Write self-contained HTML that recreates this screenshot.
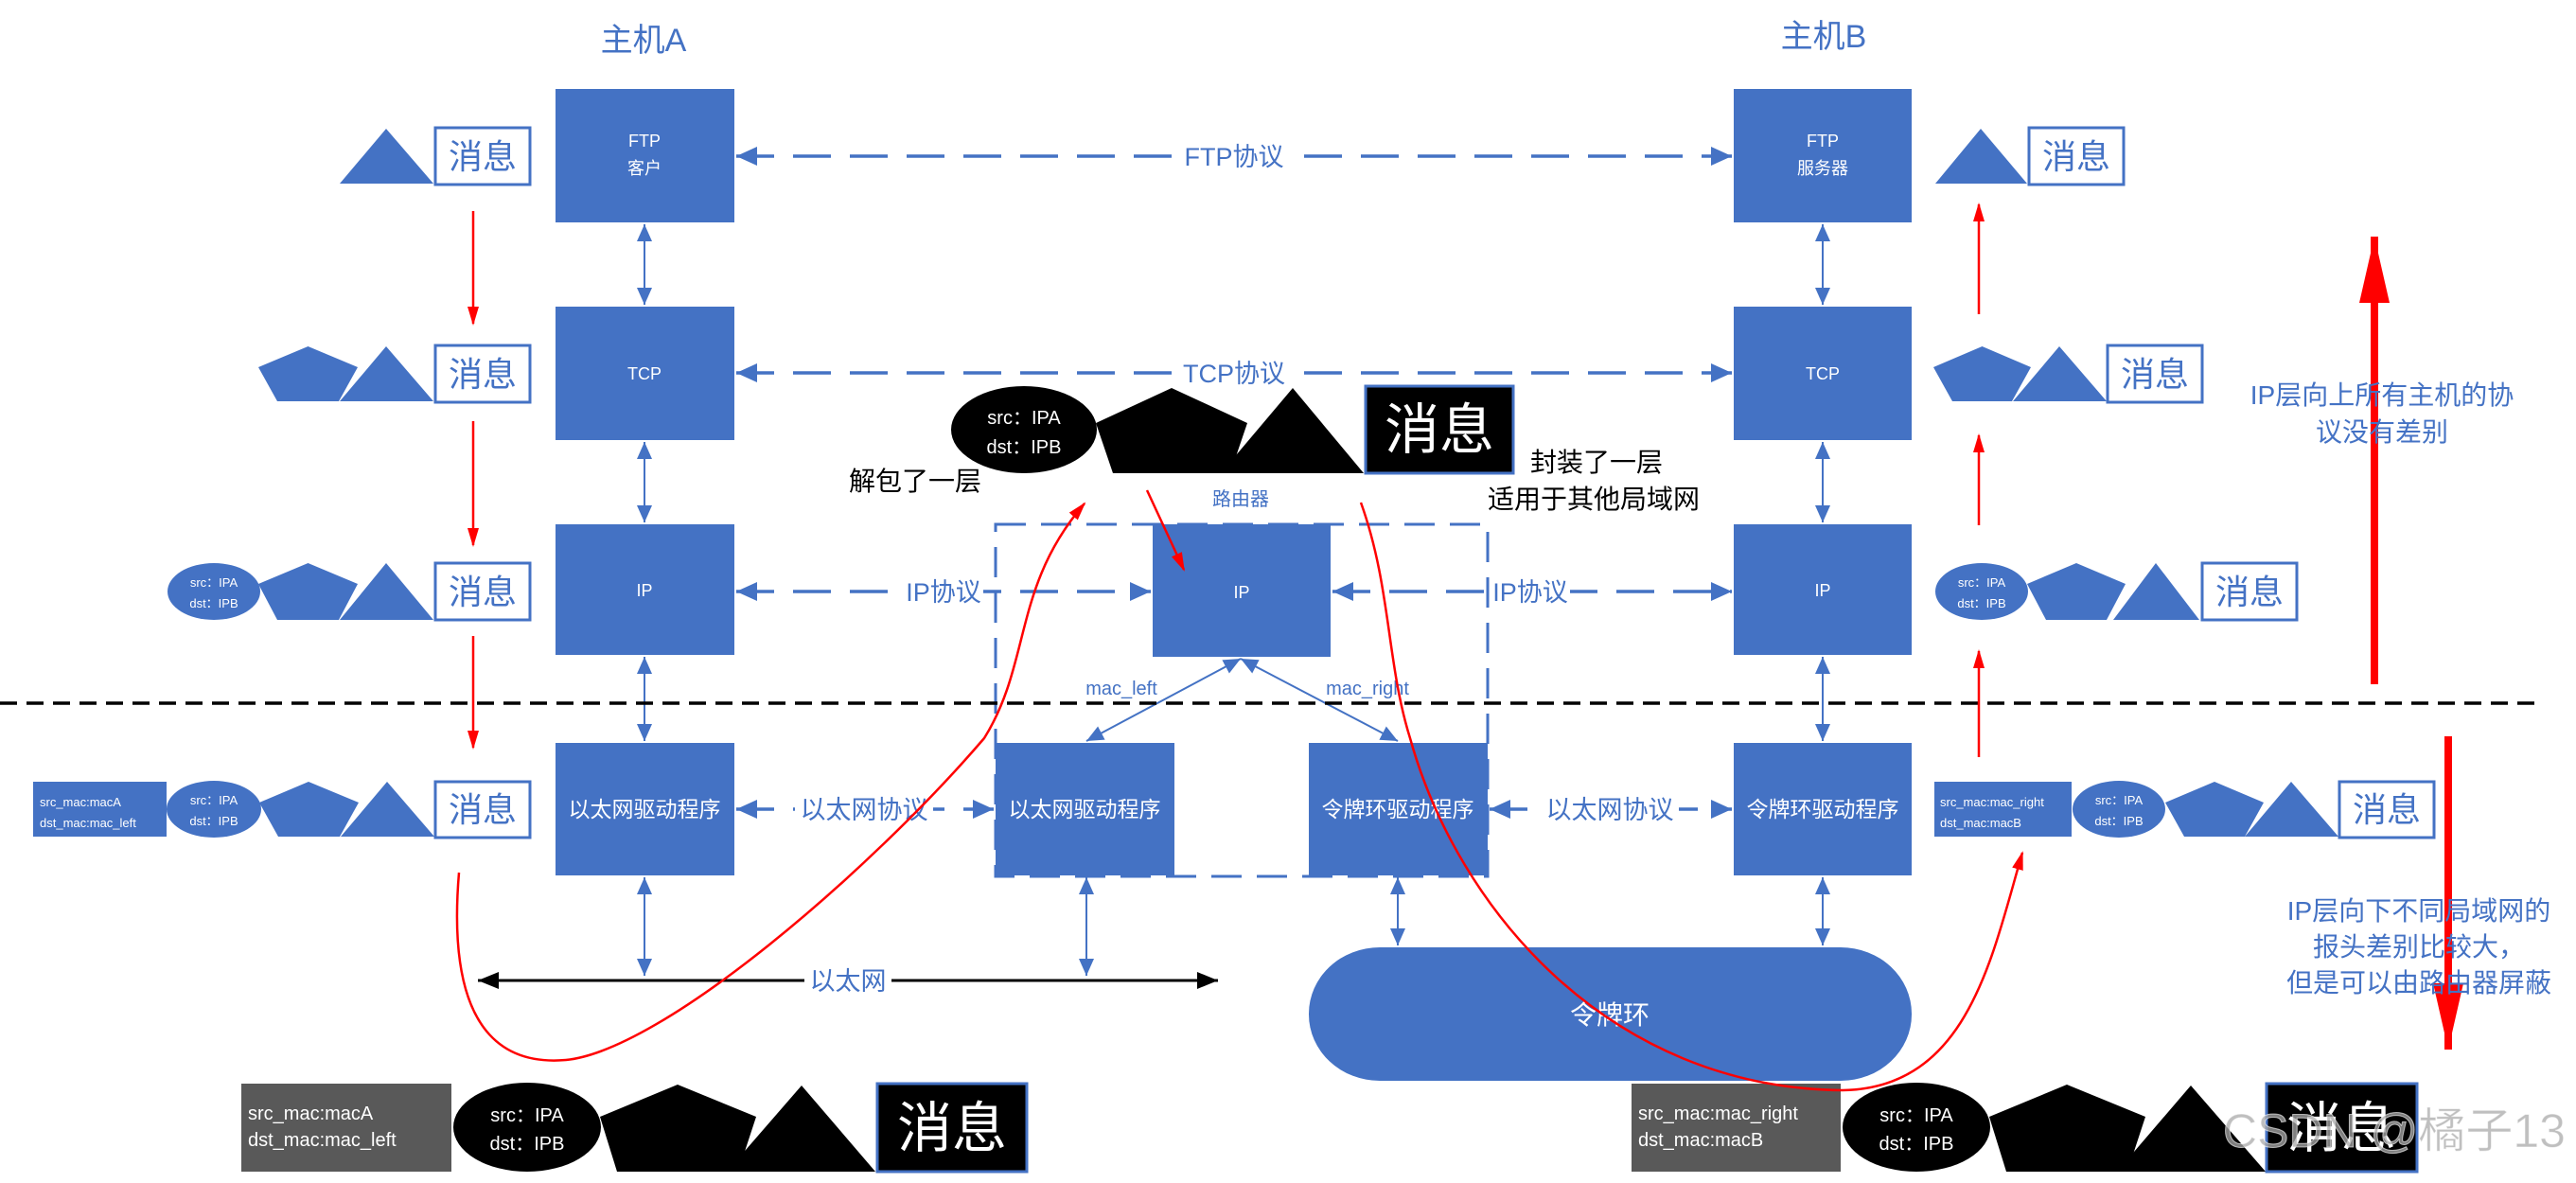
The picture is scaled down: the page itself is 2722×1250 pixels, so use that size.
<!DOCTYPE html>
<html><head><meta charset="utf-8"><style>
html,body{margin:0;padding:0;background:#fff;}
svg{display:block;}
text{font-family:"Liberation Sans","Noto Sans CJK SC",sans-serif;}
</style></head><body>
<svg width="2722" height="1250" viewBox="0 0 2722 1250" xmlns="http://www.w3.org/2000/svg">
<defs>
<marker id="ba" markerUnits="userSpaceOnUse" markerWidth="20" markerHeight="20" refX="18" refY="10" orient="auto-start-reverse"><path d="M0,2 L18,10 L0,18 z" fill="#4472C4"/></marker>
<marker id="bs" markerUnits="userSpaceOnUse" markerWidth="24" markerHeight="24" refX="22" refY="12" orient="auto-start-reverse"><path d="M0,2 L22,12 L0,22 z" fill="#4472C4"/></marker>
<marker id="ka" markerUnits="userSpaceOnUse" markerWidth="24" markerHeight="24" refX="22" refY="12" orient="auto-start-reverse"><path d="M0,3 L22,12 L0,21 z" fill="#000"/></marker>
<marker id="ra" markerUnits="userSpaceOnUse" markerWidth="20" markerHeight="30" refX="18" refY="10" orient="auto"><path d="M0,4 L20,10 L0,16 z" fill="#f00"/></marker>
<marker id="rb" markerUnits="userSpaceOnUse" markerWidth="80" markerHeight="40" refX="70" refY="16" orient="auto"><path d="M0,0 L70,16 L0,32 z" fill="#f00"/></marker>
</defs>

<!-- titles -->
<text x="680" y="54" font-size="34" fill="#4472C4" text-anchor="middle">主机A</text>
<text x="1927" y="50" font-size="34" fill="#4472C4" text-anchor="middle">主机B</text>

<!-- router dashed rect -->
<rect x="1052" y="554" width="520" height="372" fill="none" stroke="#4472C4" stroke-width="3" stroke-dasharray="32,16"/>

<!-- host A boxes -->
<g fill="#4472C4">
<rect x="587" y="94" width="189" height="141"/>
<rect x="587" y="324" width="189" height="141"/>
<rect x="587" y="554" width="189" height="138"/>
<rect x="587" y="785" width="189" height="140"/>
<rect x="1832" y="94" width="188" height="141"/>
<rect x="1832" y="324" width="188" height="141"/>
<rect x="1832" y="554" width="188" height="138"/>
<rect x="1832" y="785" width="188" height="140"/>
<rect x="1218" y="554" width="188" height="140"/>
<rect x="1052" y="785" width="189" height="140"/>
<rect x="1383" y="785" width="189" height="140"/>
<rect x="1383" y="1001" width="637" height="141" rx="75" ry="70"/>
</g>
<g fill="#fff" text-anchor="middle" font-size="18">
<text x="681" y="155">FTP</text><text x="681" y="184">客户</text>
<text x="681" y="401">TCP</text>
<text x="681" y="630">IP</text>
<text x="1926" y="155">FTP</text><text x="1926" y="184">服务器</text>
<text x="1926" y="401">TCP</text>
<text x="1926" y="630">IP</text>
<text x="1312" y="632">IP</text>
</g>
<g fill="#fff" text-anchor="middle" font-size="23">
<text x="681" y="863">以太网驱动程序</text>
<text x="1146" y="863">以太网驱动程序</text>
<text x="1477" y="863">令牌环驱动程序</text>
<text x="1926" y="863">令牌环驱动程序</text>
<text x="1701" y="1082" font-size="28">令牌环</text>
</g>

<!-- vertical blue arrows -->
<g stroke="#4472C4" stroke-width="2" marker-start="url(#ba)" marker-end="url(#ba)">
<line x1="681" y1="237" x2="681" y2="322"/>
<line x1="681" y1="467" x2="681" y2="552"/>
<line x1="681" y1="694" x2="681" y2="783"/>
<line x1="681" y1="927" x2="681" y2="1031"/>
<line x1="1926" y1="237" x2="1926" y2="322"/>
<line x1="1926" y1="467" x2="1926" y2="552"/>
<line x1="1926" y1="694" x2="1926" y2="783"/>
<line x1="1926" y1="927" x2="1926" y2="999"/>
<line x1="1148" y1="927" x2="1148" y2="1031"/>
<line x1="1477" y1="927" x2="1477" y2="999"/>
<line x1="1311" y1="696" x2="1148" y2="783"/>
<line x1="1311" y1="696" x2="1477" y2="783"/>
</g>

<!-- protocol dashed lines -->
<g stroke="#4472C4" stroke-width="3.5" stroke-dasharray="40,20" marker-start="url(#bs)" marker-end="url(#bs)" fill="none">
<line x1="778" y1="165" x2="1830" y2="165"/>
<line x1="778" y1="394" x2="1830" y2="394"/>
<line x1="778" y1="625" x2="1216" y2="625"/>
<line x1="1408" y1="625" x2="1830" y2="625"/>
<line x1="778" y1="855" x2="1050" y2="855"/>
<line x1="1574" y1="855" x2="1830" y2="855"/>
</g>
<g font-size="27" fill="#4472C4" text-anchor="middle">
<rect x="1250" y="148" width="108" height="34" fill="#fff"/><text x="1304" y="175">FTP协议</text>
<rect x="1250" y="377" width="108" height="34" fill="#fff"/><text x="1304" y="404">TCP协议</text>
<rect x="955" y="608" width="84" height="34" fill="#fff"/><text x="997" y="635">IP协议</text>
<rect x="1575" y="608" width="84" height="34" fill="#fff"/><text x="1617" y="635">IP协议</text>
<rect x="840" y="838" width="146" height="34" fill="#fff"/><text x="913" y="865">以太网协议</text>
<rect x="1628" y="838" width="146" height="34" fill="#fff"/><text x="1701" y="865">以太网协议</text>
</g>
<g font-size="20" fill="#4472C4" text-anchor="middle">
<text x="1311" y="534">路由器</text>
<text x="1185" y="734">mac_left</text>
<text x="1445" y="734">mac_right</text>
</g>

<!-- black dashed line -->
<line x1="0" y1="743" x2="2681" y2="743" stroke="#000" stroke-width="3.5" stroke-dasharray="18,10"/>

<!-- ethernet line -->
<line x1="505" y1="1036" x2="1287" y2="1036" stroke="#000" stroke-width="3" marker-start="url(#ka)" marker-end="url(#ka)"/>
<rect x="850" y="1018" width="92" height="36" fill="#fff"/>
<text x="896" y="1046" font-size="27" fill="#4472C4" text-anchor="middle">以太网</text>

<!-- left message stacks -->
<g fill="#4472C4">
<polygon points="359,194 458,194 408,136"/>
<polygon points="325.5,366 378,388 358,424 293,424 273,388"/><polygon points="359,424 458,424 408,366"/>
<ellipse cx="226" cy="625" rx="49" ry="30"/><polygon points="325.5,595 378,617 358,655 293,655 273,617"/><polygon points="359,655 458,655 408,595"/>
<rect x="35" y="826" width="141" height="58"/><ellipse cx="226" cy="855" rx="50" ry="30"/><polygon points="326,826 379,848 359,884 294,884 274,848"/><polygon points="360,884 459,884 409,826"/>
<!-- right -->
<polygon points="2045,194 2142,194 2093,136"/>
<polygon points="2094.5,366 2146,388 2126,424 2063,424 2043,388"/><polygon points="2127,424 2226,424 2176,366"/>
<ellipse cx="2094" cy="625" rx="49" ry="30"/><polygon points="2194,595 2246,617 2226,655 2162,655 2142,617"/><polygon points="2233,655 2324,655 2278,595"/>
<rect x="2044" y="826" width="145" height="58"/><ellipse cx="2239" cy="855" rx="49" ry="30"/><polygon points="2340,826 2392,848 2372,884 2308,884 2288,848"/><polygon points="2372,884 2471,884 2421,826"/>
</g>
<g fill="#fff" stroke="#4472C4" stroke-width="3">
<rect x="460" y="135" width="100" height="60"/><rect x="460" y="365" width="100" height="60"/><rect x="460" y="595" width="100" height="60"/><rect x="460" y="826" width="100" height="59"/>
<rect x="2144" y="135" width="100" height="60"/><rect x="2227" y="365" width="100" height="60"/><rect x="2327" y="595" width="100" height="60"/><rect x="2472" y="826" width="100" height="59"/>
</g>
<g fill="#4472C4" font-size="36" text-anchor="middle">
<text x="510" y="178">消息</text><text x="510" y="408">消息</text><text x="510" y="638">消息</text><text x="510" y="868">消息</text>
<text x="2194" y="178">消息</text><text x="2277" y="408">消息</text><text x="2377" y="638">消息</text><text x="2522" y="868">消息</text>
</g>
<g fill="#fff" font-size="13">
<text x="226" y="620" text-anchor="middle">src：IPA</text><text x="226" y="642" text-anchor="middle">dst：IPB</text>
<text x="226" y="850" text-anchor="middle">src：IPA</text><text x="226" y="872" text-anchor="middle">dst：IPB</text>
<text x="2094" y="620" text-anchor="middle">src：IPA</text><text x="2094" y="642" text-anchor="middle">dst：IPB</text>
<text x="2239" y="850" text-anchor="middle">src：IPA</text><text x="2239" y="872" text-anchor="middle">dst：IPB</text>
<text x="42" y="852">src_mac:macA</text><text x="42" y="874">dst_mac:mac_left</text>
<text x="2050" y="852">src_mac:mac_right</text><text x="2050" y="874">dst_mac:macB</text>
</g>

<!-- top black packet -->
<ellipse cx="1082" cy="454" rx="77" ry="46" fill="#000"/>
<polygon points="1238,410 1318,447 1300,500 1176,500 1158,447" fill="#000"/>
<polygon points="1290,500 1441,500 1366,410" fill="#000"/>
<rect x="1443" y="408" width="156" height="92" fill="#000" stroke="#4472C4" stroke-width="3"/>
<text x="1082" y="448" font-size="20" fill="#fff" text-anchor="middle">src：IPA</text>
<text x="1082" y="479" font-size="20" fill="#fff" text-anchor="middle">dst：IPB</text>
<text x="1521" y="474" font-size="58" fill="#fff" text-anchor="middle">消息</text>

<!-- bottom packets -->
<rect x="255" y="1145" width="222" height="93" fill="#595959"/>
<ellipse cx="557" cy="1191" rx="78" ry="47" fill="#000"/>
<polygon points="716,1146 799,1180 780,1238 652,1238 634,1180" fill="#000"/>
<polygon points="768,1238 925,1238 847,1147" fill="#000"/>
<rect x="927" y="1145" width="158" height="93" fill="#000" stroke="#4472C4" stroke-width="3"/>
<text x="262" y="1183" font-size="20" fill="#fff">src_mac:macA</text>
<text x="262" y="1211" font-size="20" fill="#fff">dst_mac:mac_left</text>
<text x="557" y="1185" font-size="20" fill="#fff" text-anchor="middle">src：IPA</text>
<text x="557" y="1215" font-size="20" fill="#fff" text-anchor="middle">dst：IPB</text>
<text x="1006" y="1212" font-size="58" fill="#fff" text-anchor="middle">消息</text>

<rect x="1724" y="1145" width="221" height="93" fill="#595959"/>
<ellipse cx="2025" cy="1191" rx="78" ry="47" fill="#000"/>
<polygon points="2184,1146 2267,1180 2248,1238 2120,1238 2102,1180" fill="#000"/>
<polygon points="2237,1238 2394,1238 2315,1147" fill="#000"/>
<rect x="2395" y="1145" width="159" height="93" fill="#000" stroke="#4472C4" stroke-width="3"/>
<text x="1731" y="1183" font-size="20" fill="#fff">src_mac:mac_right</text>
<text x="1731" y="1211" font-size="20" fill="#fff">dst_mac:macB</text>
<text x="2025" y="1185" font-size="20" fill="#fff" text-anchor="middle">src：IPA</text>
<text x="2025" y="1215" font-size="20" fill="#fff" text-anchor="middle">dst：IPB</text>
<text x="2474" y="1212" font-size="58" fill="#fff" text-anchor="middle">消息</text>

<!-- black annotations -->
<text x="897" y="518" font-size="28" fill="#000">解包了一层</text>
<text x="1617" y="498" font-size="28" fill="#000">封装了一层</text>
<text x="1572" y="537" font-size="28" fill="#000">适用于其他局域网</text>

<!-- red arrows -->
<g stroke="#f00" stroke-width="2.5" fill="none" marker-end="url(#ra)">
<line x1="500" y1="223" x2="500" y2="342"/>
<line x1="500" y1="445" x2="500" y2="576"/>
<line x1="500" y1="672" x2="500" y2="790"/>
<line x1="2091" y1="332" x2="2091" y2="216"/>
<line x1="2091" y1="555" x2="2091" y2="460"/>
<line x1="2091" y1="800" x2="2091" y2="688"/>
<line x1="1212" y1="518" x2="1251" y2="602"/>
<path d="M485,922 C470,1100 540,1125 598,1120 C700,1110 920,920 1040,780 C1090,700 1070,620 1146,532"/>
<path d="M1438,531 C1470,620 1465,700 1490,780 C1540,960 1700,1150 1947,1152 C2080,1150 2105,1010 2137,901"/>
</g>
<line x1="2509" y1="723" x2="2509" y2="250" stroke="#f00" stroke-width="8" marker-end="url(#rb)"/>
<line x1="2587" y1="778" x2="2587" y2="1109" stroke="#f00" stroke-width="8" marker-end="url(#rb)"/>

<!-- blue annotations -->
<g font-size="28" fill="#4472C4" text-anchor="middle">
<text x="2517" y="427">IP层向上所有主机的协</text>
<text x="2517" y="466">议没有差别</text>
<text x="2556" y="972">IP层向下不同局域网的</text>
<text x="2556" y="1010">报头差别比较大，</text>
<text x="2556" y="1048">但是可以由路由器屏蔽</text>
</g>

<!-- watermark -->
<text x="2349" y="1212" font-size="50" fill="rgba(170,170,170,0.75)" stroke="rgba(255,255,255,0.6)" stroke-width="1">CSDN @橘子13</text>
</svg>
</body></html>
